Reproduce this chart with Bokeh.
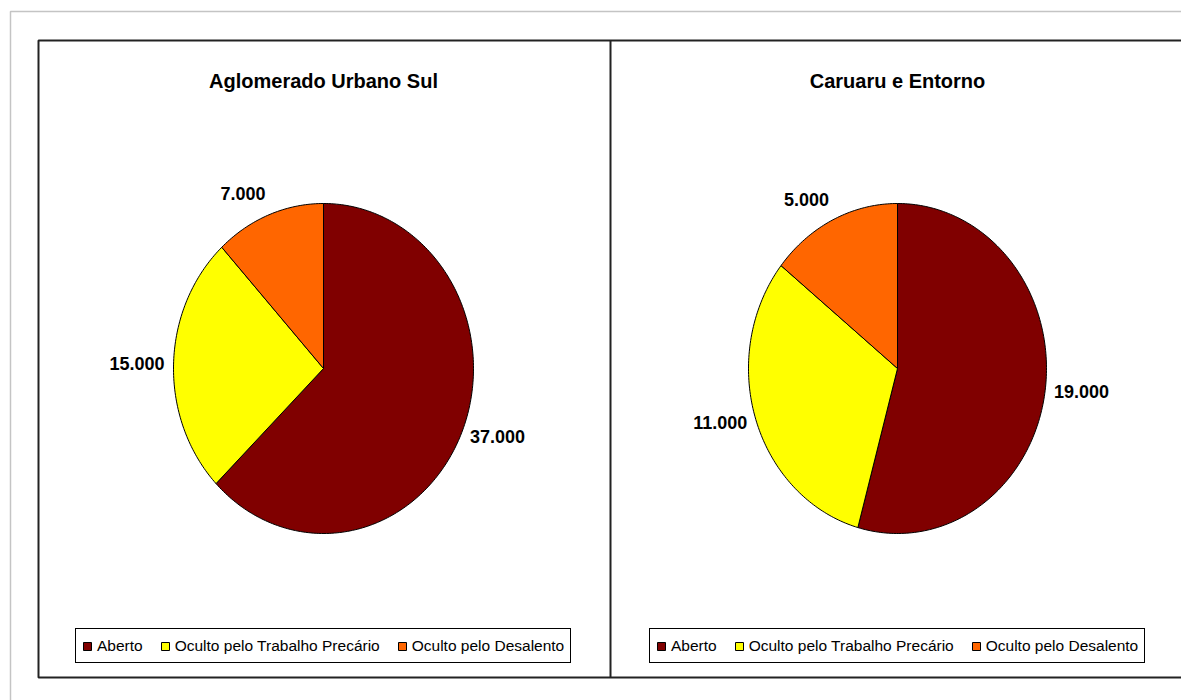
import numpy as np
from bokeh.plotting import figure
from bokeh.models import Range1d, Legend, LegendItem, ColumnDataSource
from bokeh.core.properties import value
from bokeh.embed import file_html
from bokeh.resources import INLINE

# ---- data ----
regions = ["Aglomerado Urbano Sul", "Caruaru e Entorno"]
categories = ["Aberto", "Oculto pelo Trabalho Precário", "Oculto pelo Desalento"]
aglomerado_values = [37000, 15000, 7000]
caruaru_values = [19000, 11000, 5000]
colors = ["#800000", "#FFFF00", "#FF6600"]

# ---- canvas ----
W, H = 1181, 700
p = figure(width=W, height=H, x_range=Range1d(0, W), y_range=Range1d(H, 0),
           output_backend="svg", toolbar_location=None, min_border=0,
           x_axis_type=None, y_axis_type=None)
p.grid.visible = False
p.outline_line_color = None
p.background_fill_color = "white"
p.border_fill_color = "white"

# outer light frame and panel borders
p.line(x=[10, 10, W + 10], y=[H + 10, 11, 11], line_color="#c4c4c4", line_width=1.5)
p.line(x=[W + 10, 38, 38, W + 10], y=[40, 40, 677, 677], line_color="#222222", line_width=2)
p.segment(x0=[610], y0=[40], x1=[610], y1=[677], line_color="#222222", line_width=2)

FONT = "Liberation Sans"


def fmt(v):
    return f"{v:,}".replace(",", ".")


def pie(values, title, cx, cy, rx, ry, legend_x):
    vals = np.array(values, dtype=float)
    frac = vals / vals.sum()
    ends = np.cumsum(frac) * 2 * np.pi
    starts = ends - frac * 2 * np.pi
    xs, ys = [], []
    for a0, a1 in zip(starts, ends):
        t = np.linspace(a0, a1, max(4, int(np.degrees(a1 - a0)) + 2))
        xs.append(np.concatenate([[cx], cx + rx * np.sin(t)]))
        ys.append(np.concatenate([[cy], cy - ry * np.cos(t)]))
    src = ColumnDataSource(dict(xs=xs, ys=ys, color=colors, label=categories))
    r = p.patches("xs", "ys", source=src, fill_color="color", line_color="black", line_width=1)

    # title
    p.text(x=[cx], y=[80], text=[title], text_align="center", text_baseline="alphabetic",
           text_font=value(FONT), text_font_style="bold", text_font_size="20px", text_color="black")

    # value labels
    g = 9
    for v, a0, a1 in zip(values, starts, ends):
        m = (a0 + a1) / 2
        dx, dy = np.sin(m), -np.cos(m)
        ax = cx + (rx + g) * dx
        ay = cy + (ry + g) * dy
        align = "left" if dx > 0.25 else ("right" if dx < -0.25 else "center")
        base = "bottom" if dy < -0.5 else ("top" if dy > 0.5 else "middle")
        if base == "bottom":
            ay -= 6
        p.text(x=[ax], y=[ay], text=[fmt(v)], text_align=align, text_baseline=base,
               text_font=value(FONT), text_font_style="bold", text_font_size="18px",
               text_color="black")

    legend = Legend(items=[LegendItem(label=categories[i], renderers=[r], index=i) for i in range(3)],
                    location=(legend_x, 37), orientation="horizontal",
                    glyph_width=10, glyph_height=10, label_standoff=5, spacing=17,
                    padding=6, margin=0, label_height=21,
                    label_text_font=FONT, label_text_font_size="15.5px", label_text_color="black",
                    border_line_color="black", border_line_width=1, border_line_alpha=1,
                    background_fill_color="white", background_fill_alpha=1)
    p.add_layout(legend)


pie(aglomerado_values, regions[0], 323, 368, 150, 165, 75)
pie(caruaru_values, regions[1], 897, 368, 149, 165, 649)

open("out.html", "w").write(file_html(p, INLINE))
